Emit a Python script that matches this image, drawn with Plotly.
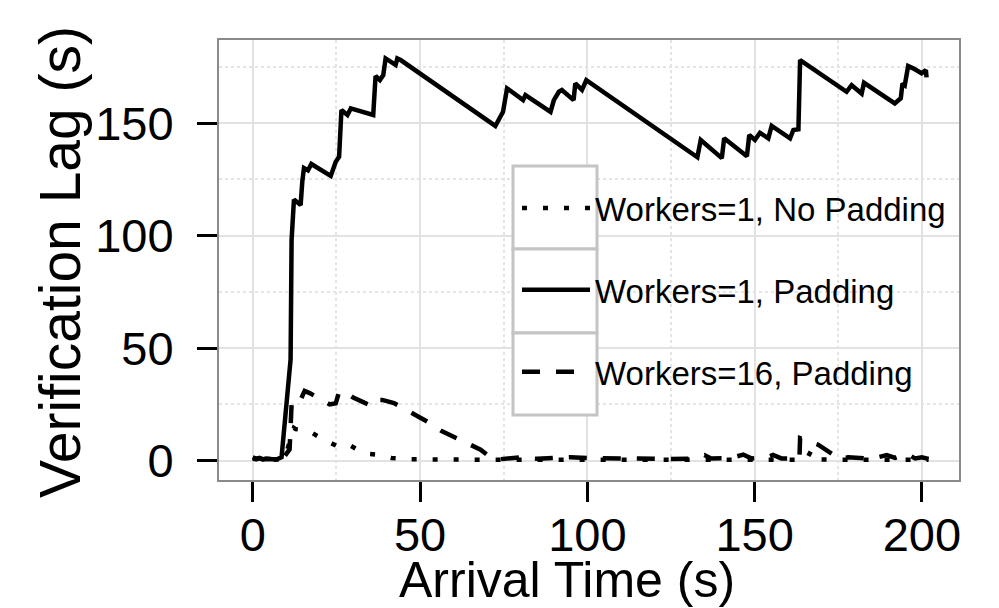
import plotly.graph_objects as go

# ---------------- data ----------------
series_names = ["Workers=1, No Padding", "Workers=1, Padding", "Workers=16, Padding"]

# Workers=1, No Padding (dotted)
nopad_x = [0, 1, 2, 3, 4, 5, 6, 7, 8, 9.5, 11.0, 12.3, 12.8, 16.5, 21.2, 25.6, 28.7, 33.4, 37.0,
           41.4, 47.0, 55.0, 70.0, 90.0, 110.0, 130.0, 150.0, 165.5, 166.8, 168.0, 185.0, 202.0]
nopad_y = [0.8, 0.5, 0.6, 0.4, 0.5, 0.4, 0.4, 0.4, 0.5, 1.0, 8.6, 14.5, 14.0, 13.4, 9.3, 6.2, 7.1, 3.1, 2.7,
           1.2, 0.6, 0.4, 0.4, 0.4, 0.4, 0.4, 0.4, 0.4, 4.1, 0.5, 0.4, 0.4]

# Workers=1, Padding (solid)
pad1_x = [0, 1, 2, 3, 4, 5, 6, 7, 8.6, 11.3, 11.6, 12.3, 14.3, 14.8, 15.3, 16.5, 17.5, 23.3, 24.8,
          25.8, 26.5, 28.3, 29.3, 36.0, 36.7, 38.0, 39.0, 39.7, 41.2, 42.7, 43.2, 44.2, 72.5, 74.0,
          74.8, 76.0, 80.8, 81.5, 89.0, 90.0, 91.5, 92.4, 95.9, 96.4, 97.7, 98.4, 99.7, 132.9, 133.9,
          140.2, 140.9, 147.7, 148.4, 150.1, 151.6, 154.1, 155.1, 160.6, 161.6, 163.1, 163.6, 177.5,
          179.0, 182.0, 182.7, 191.9, 193.7, 194.2, 194.9, 195.9, 197.4, 199.9, 201.2, 201.4]
pad1_y = [1.5, 0.8, 1.2, 0.5, 0.8, 0.5, 0.6, 0.5, 1.5, 45.0, 98.0, 116.0, 113.6, 124.0, 130.0, 129.0,
          131.8, 126.5, 132.8, 135.0, 155.8, 153.6, 156.5, 153.6, 170.9, 169.1, 171.3, 178.7, 177.2,
          175.8, 178.7, 178.0, 148.7, 153.6, 155.0, 165.4, 160.2, 162.4, 155.0, 160.2, 163.9, 164.7,
          160.2, 167.6, 166.1, 164.7, 169.1, 134.8, 142.5, 134.4, 143.2, 135.2, 144.7, 142.5, 145.7,
          143.2, 148.7, 143.2, 146.9, 147.2, 178.0, 163.9, 166.8, 163.1, 167.9, 158.7, 161.0, 167.6,
          166.8, 175.3, 174.3, 172.1, 173.5, 170.3]

# Workers=16, Padding (dashed)
pad16_x = [0, 1, 2, 3, 4, 5, 6, 7, 9.0, 11.0, 11.6, 13.0, 14.3, 15.5, 17.0, 21.3, 23.0, 24.8, 25.7,
           27.0, 30.0, 33.0, 35.7, 37.5, 38.7, 42.2, 46.7, 52.1, 56.6, 63.1, 68.1, 71.0, 73.0, 80.0,
           85.0, 90.0, 95.0, 100.0, 105.0, 110.0, 115.0, 120.0, 125.0, 130.0, 135.0, 137.0, 143.0,
           146.6, 149.0, 153.7, 155.5, 158.0, 163.4, 163.6, 166.0, 169.0, 173.4, 175.0, 178.0, 181.0,
           185.0, 189.5, 192.0, 195.5, 198.0, 200.0, 202.0]
pad16_y = [1.2, 0.8, 1.0, 0.6, 0.8, 0.6, 0.7, 0.6, 1.0, 5.0, 25.0, 24.0, 27.0, 31.0, 30.0, 26.5, 25.0,
           25.5, 30.0, 31.0, 28.0, 26.0, 24.1, 27.0, 27.0, 25.6, 21.9, 17.4, 13.0, 8.6, 4.9, 1.5, 0.5,
           1.5, 0.8, 1.2, 1.5, 1.2, 1.0, 0.8, 1.0, 0.8, 0.7, 0.8, 2.5, 1.0, 1.2, 2.7, 1.0, 1.5, 2.5,
           1.0, 1.0, 10.0, 8.5, 7.1, 2.7, 0.8, 1.5, 1.2, 0.8, 2.5, 1.2, 3.0, 1.0, 1.5, 0.8]

x_ticks = [0, 50, 100, 150, 200]
y_ticks = [0, 50, 100, 150]
x_title = "Arrival Time (s)"
y_title = "Verification Lag (s)"

FONT = "Liberation Sans, Arial, Helvetica, sans-serif"

fig = go.Figure()
fig.add_trace(go.Scatter(x=nopad_x, y=nopad_y, mode="lines", name=series_names[0], legendgroup="a",
                         line=dict(color="black", width=4.5, dash="5px,16px")))
fig.add_trace(go.Scatter(x=pad1_x, y=pad1_y, mode="lines", name=series_names[1], legendgroup="b",
                         line=dict(color="black", width=4.5)))
fig.add_trace(go.Scatter(x=pad16_x, y=pad16_y, mode="lines", name=series_names[2], legendgroup="c",
                         line=dict(color="black", width=4.5, dash="18px,16px")))

# The page body has an 8px margin, so the figure is shrunk by 8px to fill the 999x608 window.
OFF = 8
W, H = 999 - OFF, 608 - OFF
PL, PR, PT, PB = 219, 959, 40, 480           # plot area in window pixels
L, R, T, B = PL - OFF, W + OFF - PR, PT - OFF, H + OFF - PB
pw, ph = PR - PL, PB - PT
def px2paper_x(p):
    return (p - PL) / pw
def px2paper_y(p):
    return (PB - p) / ph

# legend key boxes (ggplot style)
key_edges = [166, 249, 333, 415]
for i in range(3):
    fig.add_shape(type="rect", xref="paper", yref="paper",
                  x0=px2paper_x(513), x1=px2paper_x(597),
                  y0=px2paper_y(key_edges[i + 1]), y1=px2paper_y(key_edges[i]),
                  line=dict(color="#c4c4c4", width=3), fillcolor="white", layer="above")

# axis titles as text annotations
fig.add_annotation(text=y_title, xref="paper", yref="paper", x=px2paper_x(60), y=px2paper_y(262),
                   xanchor="center", yanchor="middle", textangle=-90, showarrow=False,
                   font=dict(family=FONT, size=57, color="black"))
fig.add_annotation(text=x_title, xref="paper", yref="paper", x=px2paper_x(567), y=px2paper_y(580),
                   xanchor="center", yanchor="middle", showarrow=False,
                   font=dict(family=FONT, size=50, color="black"))

axis_common = dict(
    automargin=False,
    showline=True, mirror=True, linecolor="#8a8a8a", linewidth=2,
    showgrid=True, gridcolor="#e2e2e2", gridwidth=2,
    zeroline=False,
    ticks="outside", ticklen=20, tickwidth=3, tickcolor="black",
    tickfont=dict(family=FONT, size=47, color="black"),
)

fig.update_layout(
    width=W, height=H,
    margin=dict(l=L, r=R, t=T, b=B),
    paper_bgcolor="white", plot_bgcolor="white",
    font=dict(family=FONT, color="black"),
    xaxis=dict(range=[-10.1, 211.1], tickvals=x_ticks, ticklabelstandoff=-7,
               minor=dict(dtick=25, tick0=25, showgrid=True, gridcolor="#e4e4e4", griddash="dot", gridwidth=1.5),
               **axis_common),
    yaxis=dict(range=[-8.6, 186.9], tickvals=y_ticks, ticklabelstandoff=14,
               minor=dict(dtick=25, tick0=25, showgrid=True, gridcolor="#e4e4e4", griddash="dot", gridwidth=1.5),
               **axis_common),
    showlegend=True,
    legend=dict(x=px2paper_x(517), y=px2paper_y(180), xanchor="left", yanchor="top",
                bgcolor="rgba(0,0,0,0)", borderwidth=0,
                font=dict(family=FONT, size=33, color="black"),
                itemwidth=68, tracegroupgap=36, traceorder="grouped"),
)

fig.write_html("out.html")
